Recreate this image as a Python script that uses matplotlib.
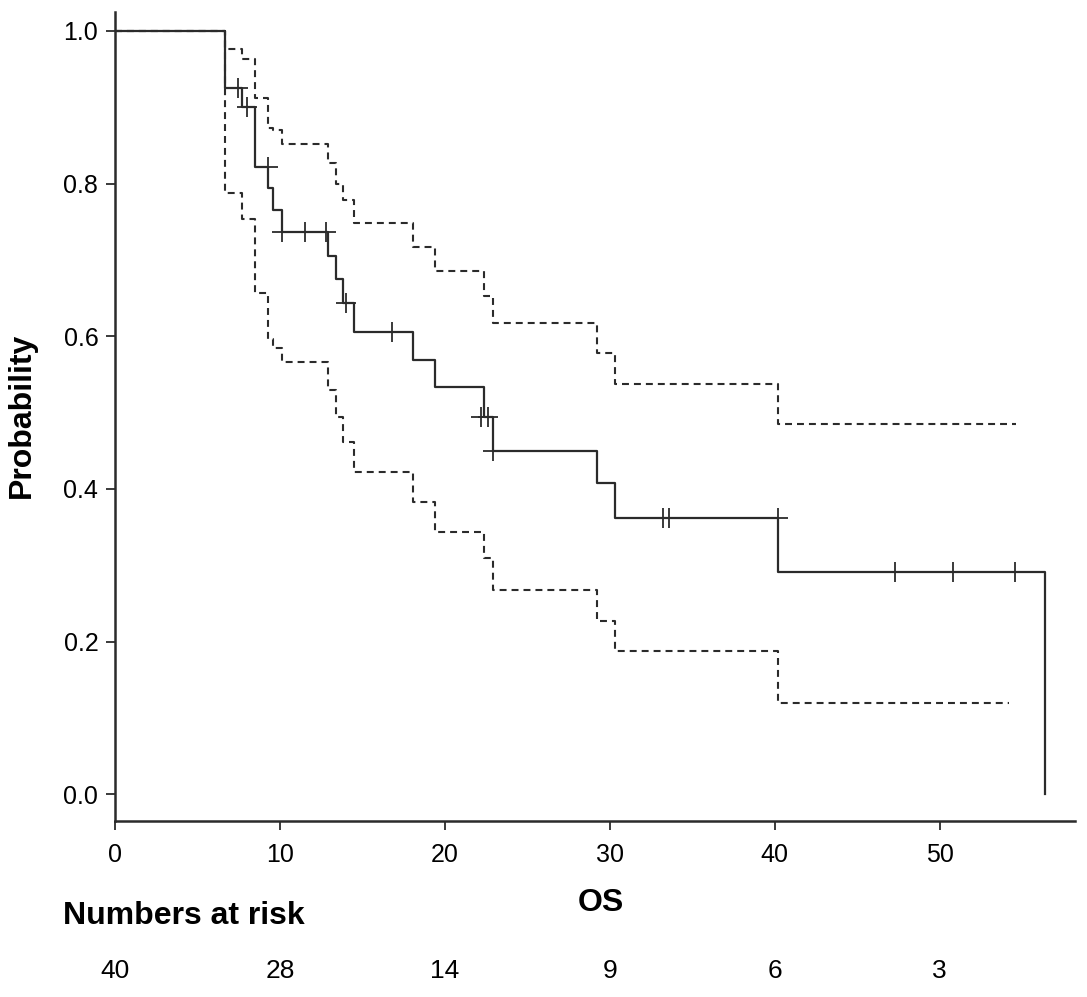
import matplotlib
matplotlib.use('Agg')
import matplotlib.pyplot as plt

plt.rcParams['font.family'] = ['Liberation Sans', 'DejaVu Sans']
plt.rcParams['lines.scale_dashes'] = False

# Kaplan-Meier estimate (step times and survival after each step)
event_times = [0, 6.67, 7.7, 8.48, 9.27, 9.6, 10.1, 12.9, 13.4, 13.8, 14.5,
               18.06, 19.4, 22.4, 22.9, 29.2, 30.3, 40.2, 56.4]
survival = [1.0, 0.925, 0.900, 0.822, 0.794, 0.765, 0.737, 0.705, 0.675, 0.643,
            0.606, 0.569, 0.533, 0.494, 0.450, 0.408, 0.362, 0.291, 0.0]

# 95% CI bounds on the same step times (last step excluded)
ci_times = event_times[:-1]
upper_ci = [1.0, 0.976, 0.963, 0.912, 0.873, 0.870, 0.852, 0.827, 0.800, 0.778,
            0.748, 0.717, 0.686, 0.653, 0.617, 0.578, 0.538, 0.485]
lower_ci = [1.0, 0.787, 0.753, 0.657, 0.596, 0.585, 0.566, 0.530, 0.494, 0.461,
            0.422, 0.383, 0.344, 0.310, 0.268, 0.227, 0.188, 0.119]
upper_end = 54.65
lower_end = 54.2

# censored observations
censor_times = [7.45, 8.0, 9.3, 10.1, 11.5, 12.8, 14.0, 16.8, 22.2, 22.6, 22.9,
                33.2, 33.6, 40.2, 47.3, 50.8, 54.6]
censor_surv = [0.925, 0.900, 0.822, 0.737, 0.737, 0.737, 0.643, 0.606, 0.494, 0.494,
               0.450, 0.362, 0.362, 0.362, 0.291, 0.291, 0.291]

risk_times = [0, 10, 20, 30, 40, 50]
at_risk = [40, 28, 14, 9, 6, 3]

fig = plt.figure(figsize=(10.87, 9.97), dpi=100)
ax = fig.add_axes([0.1058, 0.1765, 0.883, 0.8115])

ax.step(event_times, survival, where='post', color='#2b2b2b', linewidth=1.6)
ax.step(ci_times + [upper_end], upper_ci + [upper_ci[-1]], where='post',
        color='#2b2b2b', linewidth=1.5, dashes=(5, 3.6))
ax.step(ci_times + [lower_end], lower_ci + [lower_ci[-1]], where='post',
        color='#2b2b2b', linewidth=1.5, dashes=(5, 3.6))
ax.plot(censor_times, censor_surv, linestyle='none', marker='+', markersize=14,
        markeredgewidth=1.3, color='#2b2b2b')

ax.set_xlim(0, 58.2)
ax.set_ylim(-0.035, 1.0247)
ax.set_xticks(risk_times)
ax.set_yticks([0.0, 0.2, 0.4, 0.6, 0.8, 1.0])
ax.set_yticklabels(['0.0', '0.2', '0.4', '0.6', '0.8', '1.0'])
ax.tick_params(axis='both', labelsize=18, length=6.5, width=1.3, color='#2b2b2b')
ax.tick_params(axis='y', pad=5.5)
ax.tick_params(axis='x', pad=9)
for side in ['top', 'right']:
    ax.spines[side].set_visible(False)
for side in ['left', 'bottom']:
    ax.spines[side].set_linewidth(1.8)
    ax.spines[side].set_color('#2b2b2b')

fig.text(0.0205, 0.583, 'Probability', fontsize=23, fontweight='bold', rotation=90,
         ha='center', va='center')
fig.text(0.553, 0.0943, 'OS', fontsize=23, fontweight='bold', ha='center', va='center')
fig.text(0.058, 0.0813, 'Numbers at risk', fontsize=23, fontweight='bold', ha='left', va='center')
for t, n in zip(risk_times, at_risk):
    x_fig = fig.transFigure.inverted().transform(ax.transData.transform((t, 0)))[0]
    fig.text(x_fig, 0.026, str(n), fontsize=19, ha='center', va='center')

fig.savefig('out.png', dpi=100)
